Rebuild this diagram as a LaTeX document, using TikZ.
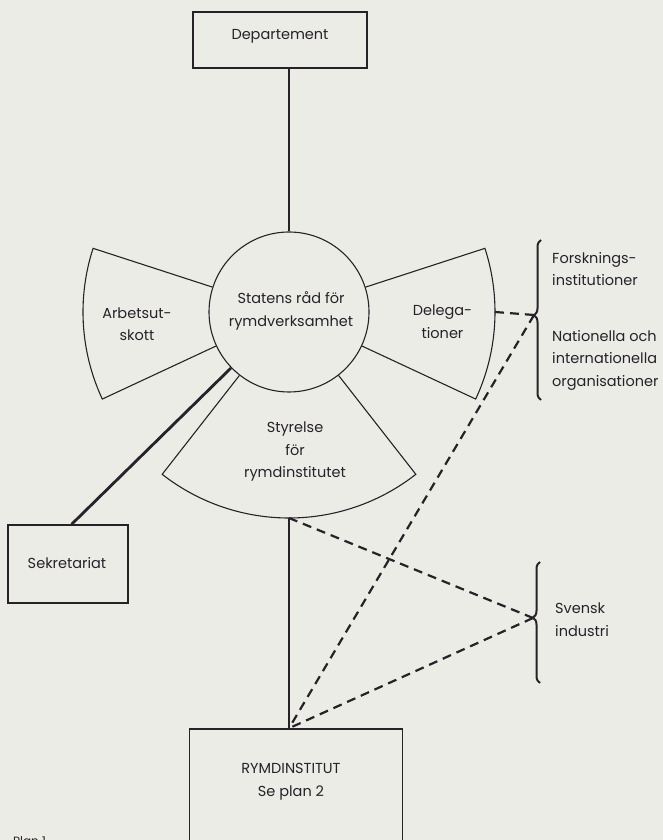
\documentclass[tikz,border=0pt]{standalone}
\usepackage{fontspec}
\setmainfont{Poppins}
\usetikzlibrary{calc,decorations.pathreplacing}
\definecolor{paper}{RGB}{236,236,231}
\definecolor{ink}{RGB}{38,34,40}
\begin{document}
\begin{tikzpicture}[x=1pt,y=1pt,
  line/.style={draw=ink, line width=1.1pt},
  thickline/.style={draw=ink, line width=2.3pt},
  dashline/.style={draw=ink, line width=2.2pt, dash pattern=on 9pt off 6pt},
  box/.style={draw=ink, line width=1.5pt, inner sep=0pt},
  lbl/.style={text=ink, inner sep=0pt, align=center, font=\fontsize{14.5}{22.5}\selectfont},
  lbll/.style={text=ink, inner sep=0pt, align=left, anchor=west, font=\fontsize{14.5}{22.5}\selectfont},
  bracestyle/.style={draw=ink, line width=2pt, decorate, decoration={brace, amplitude=7pt, aspect=#1}}
]
\fill[paper] (0,0) rectangle (663,840);
\useasboundingbox (0,0) rectangle (663,840);

% boxes
\node[box, minimum width=174pt, minimum height=56pt] (dep) at (280,800) {};
\node[lbl] (deptxt) at (280,804) {Departement};
\node[box, minimum width=120pt, minimum height=78pt] (sek) at (68,276) {};
\node[lbl] (sektxt) at (67,277) {Sekretariat};
\node[box, minimum width=213pt, minimum height=151pt] (rym) at (296,35.5) {};
\node[lbl] (rymtxt) at (291,58) {RYMDINSTITUT\\Se plan 2};

% central circle and sectors
\node[circle, draw=ink, line width=1.1pt, minimum size=160pt, inner sep=0pt] (c) at (289,528) {};
\node[lbl] (ctxt) at (291,529) {Statens råd för\\rymdverksamhet};
\draw[line] (c.162) -- ([shift={(162:206)}]c.center) arc[start angle=162, end angle=205, radius=206] -- (c.205);
\draw[line] (c.18) -- ([shift={(18:206)}]c.center) arc[start angle=18, end angle=-25, radius=206] -- (c.335);
\draw[line] (c.232) -- ([shift={(232:206)}]c.center) arc[start angle=232, end angle=308, radius=206] -- (c.308);
\node[lbl] (arb) at (137,516) {Arbetsut-\\skott};
\node[lbl] (del) at (442.5,518.5) {Delega-\\tioner};
\node[lbl] (sty) at (295,388) {Styrelse\\för\\rymdinstitutet};

\coordinate (sb) at ([shift={(270:206)}]c.center);
\coordinate (dr) at ([shift={(0:206)}]c.center);
\coordinate (rt) at (sb |- rym.north);

% solid connectors
\draw[thickline] (dep.south -| c.north) -- (c.north);
\draw[thickline, line width=2.8pt] (c.224) -- ($(sek.north west)!0.53!(sek.north east)$);
\draw[thickline] (sb) -- (rt);

% braces
\coordinate (b1) at (534,525);
\draw[bracestyle=0.53] (541,440) -- (541,600);
\coordinate (b2) at (533,222);
\draw[bracestyle=0.54] (540,157) -- (540,278);
\node[lbll] (forsk) at (552,571) {Forsknings-\\institutioner};
\node[lbll] (nat) at (552,480) {Nationella och\\internationella\\organisationer};
\node[lbll] (sv) at (555,220.5) {Svensk\\industri};

% dashed connectors
\draw[dashline] (dr) -- (b1);
\draw[dashline] (b1) -- (rt);
\draw[dashline] (sb) -- (b2);
\draw[dashline] (b2) -- (rt);

\node[text=ink, inner sep=0pt, anchor=north west, font=\fontsize{12}{14}\selectfont] (plan) at (13,4) {Plan 1};
\end{tikzpicture}
\end{document}
